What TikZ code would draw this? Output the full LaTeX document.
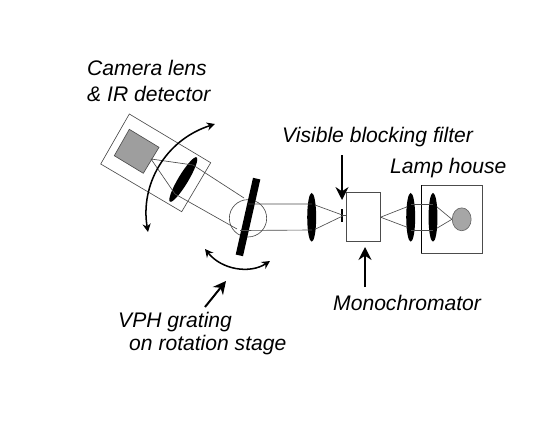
\documentclass[tikz,border=0pt]{standalone}
\usepackage{fontspec}
\setmainfont{Liberation Sans}
\usetikzlibrary{shapes.geometric, arrows.meta}
\tikzset{
  lbl/.style={font=\fontsize{18}{20}\selectfont\itshape, inner sep=0pt, anchor=west},
  optline/.style={line width=0.55pt, black!70},
  lensshape/.style={ellipse, fill=black, inner sep=0pt, minimum width=9*0.85pt, minimum height=49*0.85pt},
  pointer/.style={-{Stealth[length=11pt, width=11pt]}, line width=1.7pt, black},
  swing/.style={{Stealth[length=7pt, width=7pt]}-{Stealth[length=7pt, width=7pt]}, line width=1.3pt, black}
}
\begin{document}
\begin{tikzpicture}[x=0.03cm, y=-0.03cm]
  \useasboundingbox (0,0) rectangle (545,421);
  % labels
  \node[lbl] (cameralbl) at (87,68) {Camera lens};
  \node[lbl] (detectorlbl) at (87,94) {\& IR detector};
  \node[lbl] (filterlbl) at (282,137) {Visible blocking filter};
  \node[lbl] (lamplbl) at (390,168) {Lamp house};
  \node[lbl] (monolbl) at (333,303) {Monochromator};
  \node[lbl] (vphlbl) at (118,322) {VPH grating};
  \node[lbl] (stagelbl) at (129,345) {on rotation stage};
  % camera arm
  \draw[optline] (129.3,114) -- (210.7,162.7) -- (181.7,211.7) -- (100.7,164) -- cycle;
  \draw[optline, fill=black!38] (129.3,129.3) -- (159,147.3) -- (143.3,173.3) -- (114.3,155.7) -- cycle;
  \node[lensshape, rotate=-31, minimum width=10*0.85pt, minimum height=52*0.85pt] (camlens) at (183.3,179.5) {};
  \coordinate (focus) at (151,159);
  \coordinate (camtop) at (193,165);
  \coordinate (cambot) at (175,194);
  \draw[optline] (focus) -- (camtop) (focus) -- (cambot);
  % beam to grating
  \node[draw, circle, black!70, line width=0.55pt, minimum size=37.5*0.85pt, inner sep=0pt] (stage) at (248,218.3) {};
  \coordinate (gratetop) at (244,198);
  \coordinate (gratebot) at (237,229);
  \draw[optline] (camtop) -- (gratetop) (cambot) -- (gratebot);
  \node[fill=black, rotate=-12.7, inner sep=0pt, minimum width=7.5*0.85pt, minimum height=79*0.85pt] (grating) at (248,217) {};
  % collimator and filter
  \node[lensshape] (collens) at (311.7,217.3) {};
  \draw[optline] (gratetop) ++(4,6) -- (312,204) (gratebot) ++(3,1.5) -- (312,230);
  \node[fill=black, inner sep=0pt, minimum width=2.2*0.85pt, minimum height=14*0.85pt] (filter) at (342.3,215.5) {};
  \node[draw, black!70, line width=0.55pt, inner sep=0pt, minimum width=33.6*0.85pt, minimum height=49*0.85pt] (mono) at (363.5,217.2) {};
  \draw[optline] (315,205) -- (filter.east) (315,229.3) -- (filter.east) (filter.east) -- (mono.west |- filter.east);
  % lamp house
  \node[draw, black!70, line width=0.55pt, inner sep=0pt, minimum width=61.4*0.85pt, minimum height=68*0.85pt] (house) at (452,219.3) {};
  \draw[line width=0.7pt, black] (house.north west) -- (house.south west);
  \node[lensshape] (lens2) at (410.7,217.3) {};
  \node[lensshape] (lens3) at (433,217.3) {};
  \node[draw, black!60, fill=black!35, ellipse, line width=0.55pt, inner sep=0pt, minimum width=19*0.85pt, minimum height=23*0.85pt] (lamp) at (461.7,219.3) {};
  \draw[optline] (mono.east) -- (407.3,206.7) (mono.east) -- (407.3,227.3);
  \draw[optline] (lens2.center |- 0,204) -- (lens3.center |- 0,204) (lens2.center |- 0,230) -- (lens3.center |- 0,230);
  \draw[optline] (436.7,206.7) -- (lamp.west) (436.7,228.3) -- (lamp.west);
  % pointers
  \coordinate (filtertail) at (342,155);
  \coordinate (filtertip) at (342,200);
  \coordinate (monotail) at (365,287);
  \coordinate (monotip) at (365,247);
  \coordinate (vphtail) at (205,307);
  \coordinate (vphtip) at (226,281);
  \draw[pointer] (filtertail) -- (filtertip);
  \draw[pointer] (monotail) -- (monotip);
  \draw[pointer] (vphtail) -- (vphtip);
  % rotation arrows
  \coordinate (armend) at (215,124);
  \coordinate (armstart) at (148,232);
  \draw[swing] (armstart) .. controls (140,185) and (165,140) .. (armend);
  \coordinate (stagestart) at (205,249);
  \coordinate (stageend) at (270,261);
  \draw[swing] (stagestart) .. controls (222,270) and (250,274) .. (stageend);
\end{tikzpicture}
\end{document}
